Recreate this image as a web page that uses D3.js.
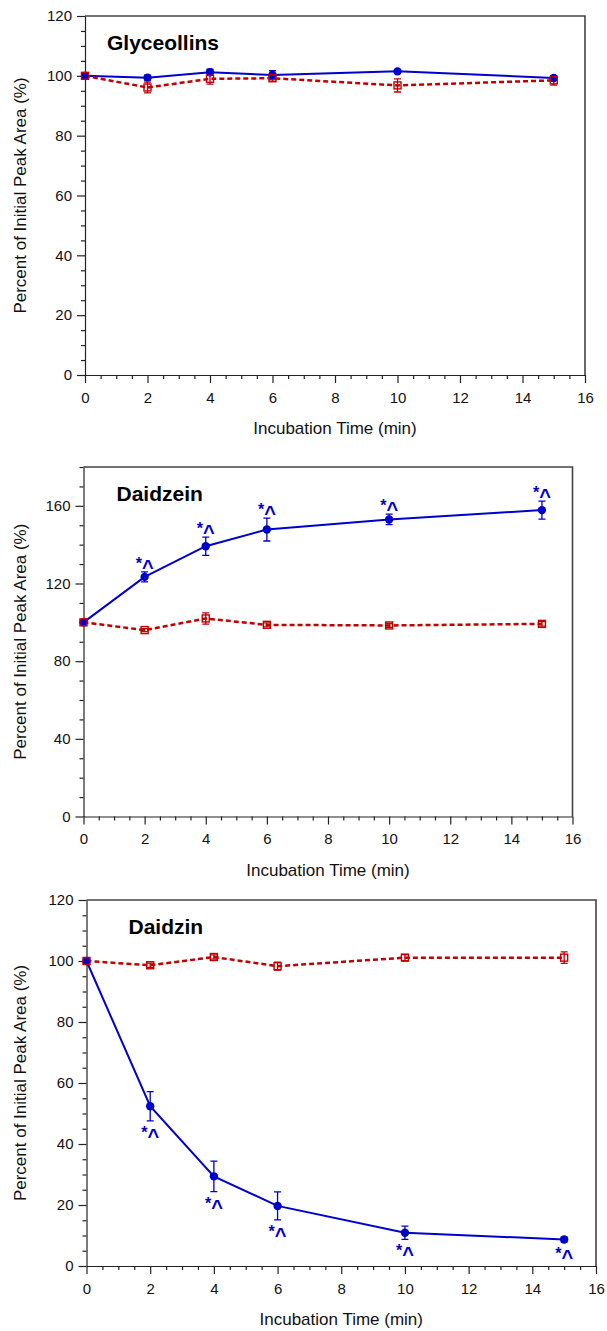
<!DOCTYPE html>
<html>
<head>
<meta charset="utf-8">
<script src="https://cdn.jsdelivr.net/npm/d3@7"></script>
<style>
body { margin: 0; background: #fff; }
svg { display: block; font-family: "Liberation Sans", Arial, sans-serif; }
</style>
</head>
<body>
<svg id="chart" width="607" height="1331"></svg>
<script>
// data
const times = [0, 2, 4, 6, 10, 15];
const xTicks = [0, 2, 4, 6, 8, 10, 12, 14, 16];

// Glyceollins
const glyBlue = [100, 99.4, 101.2, 100.3, 101.5, 99.3];
const glyBlueErr = [0.3, 0.8, 1.0, 1.4, 0.6, 0.8];
const glyRed = [100, 96.1, 99.0, 99.2, 96.8, 98.5];
const glyRedErr = [0.3, 1.8, 1.8, 1.0, 2.2, 1.6];

// Daidzein
const daiBlue = [100, 123.4, 139.2, 147.8, 153.0, 157.8];
const daiBlueErr = [0.5, 2.6, 4.7, 5.9, 2.7, 4.6];
const daiRed = [100, 96.0, 102.0, 98.7, 98.4, 99.2];
const daiRedErr = [0.5, 0.8, 2.9, 1.0, 1.0, 1.2];

// Daidzin
const dznBlue = [100, 52.4, 29.4, 19.7, 10.9, 8.7];
const dznBlueErr = [0.4, 4.8, 5.0, 4.6, 2.2, 0.8];
const dznRed = [100, 98.6, 101.3, 98.3, 101.1, 101.1];
const dznRedErr = [0.4, 0.7, 0.7, 1.3, 1.0, 1.9];

const sigMarks = ["", "*^", "*^", "*^", "*^", "*^"];

const blue = "#0000cc";
const red = "#c00000";

let svg = d3.select("#chart");

let panels = [
	{ title: "Glyceollins", blue: glyBlue, blueErr: glyBlueErr, red: glyRed, redErr: glyRedErr,
	  marks: null, yMax: 120, yStep: 20, yMinor: 5,
	  left: 85, right: 585, top: 16, bottom: 375, titleDx: 22 },
	{ title: "Daidzein", blue: daiBlue, blueErr: daiBlueErr, red: daiRed, redErr: daiRedErr,
	  marks: "above", yMax: 180, yStep: 40, yMinor: 10,
	  left: 83.5, right: 572.5, top: 467, bottom: 816.5, titleDx: 33 },
	{ title: "Daidzin", blue: dznBlue, blueErr: dznBlueErr, red: dznRed, redErr: dznRedErr,
	  marks: "below", yMax: 120, yStep: 20, yMinor: 5,
	  left: 86.5, right: 596, top: 900, bottom: 1266, titleDx: 42 }
];

panels.forEach(drawPanel);

function drawPanel(p) {
	let x = d3.scaleLinear().domain([0, 16]).range([p.left, p.right]);
	let y = d3.scaleLinear().domain([0, p.yMax]).range([p.bottom, p.top]);

	let g = svg.append("g");

	// frame (top + right)
	g.append("path")
		.attr("d", `M${p.left},${p.top}H${p.right}V${p.bottom}`)
		.attr("fill", "none")
		.attr("stroke", "#444")
		.attr("stroke-width", 1.6);

	// y axis
	let yMajor = d3.range(0, p.yMax + 0.01, p.yStep);
	g.append("g").attr("transform", `translate(${p.left},0)`)
		.call(d3.axisLeft(y).tickValues(yMajor).tickSize(8).tickPadding(5).tickSizeOuter(0));
	g.append("g").attr("transform", `translate(${p.left},0)`)
		.call(d3.axisLeft(y).tickValues(d3.range(0, p.yMax + 0.01, p.yMinor).filter(v => v % p.yStep !== 0))
			.tickSize(4).tickFormat("").tickSizeOuter(0))
		.select(".domain").remove();

	// x axis
	g.append("g").attr("transform", `translate(0,${p.bottom})`)
		.call(d3.axisBottom(x).tickValues(xTicks).tickSize(8).tickPadding(9).tickSizeOuter(0));
	g.append("g").attr("transform", `translate(0,${p.bottom})`)
		.call(d3.axisBottom(x).tickValues(d3.range(0, 16.01, 0.5).filter(v => v % 2 !== 0))
			.tickSize(4).tickFormat("").tickSizeOuter(0))
		.select(".domain").remove();

	g.selectAll(".tick text").attr("font-size", 15).attr("font-family", "Liberation Sans, Arial, sans-serif").attr("fill", "#111");
	g.selectAll(".domain, .tick line").attr("stroke", "#222").attr("stroke-width", 1.2);

	// axis titles
	g.append("text")
		.attr("x", (p.left + p.right) / 2)
		.attr("y", p.bottom + 59)
		.attr("text-anchor", "middle")
		.attr("font-size", 17)
		.attr("fill", "#111")
		.text("Incubation Time (min)");

	g.append("text")
		.attr("transform", `translate(20,${(p.top + p.bottom) / 2}) rotate(-90)`)
		.attr("text-anchor", "middle")
		.attr("dominant-baseline", "central")
		.attr("font-size", 17)
		.attr("fill", "#111")
		.text("Percent of Initial Peak Area (%)");

	// panel title
	g.append("text")
		.attr("x", p.left + p.titleDx)
		.attr("y", p.top + 34)
		.attr("font-size", 21)
		.attr("font-weight", "bold")
		.attr("fill", "#000")
		.text(p.title);

	let blueData = times.map((t, i) => ({ t: t, v: p.blue[i], e: p.blueErr[i], m: sigMarks[i] }));
	let redData = times.map((t, i) => ({ t: t, v: p.red[i], e: p.redErr[i] }));

	let line = d3.line().x(d => x(d.t)).y(d => y(d.v));

	// lines
	g.append("path").attr("d", line(blueData))
		.attr("fill", "none").attr("stroke", blue).attr("stroke-width", 2);
	g.append("path").attr("d", line(redData))
		.attr("fill", "none").attr("stroke", red).attr("stroke-width", 2.5)
		.attr("stroke-dasharray", "5,3");

	// error bars
	function errBars(data, color) {
		let eb = g.append("g").attr("stroke", color).attr("stroke-width", 1.3).attr("fill", "none");
		eb.selectAll("path").data(data.filter(d => d.t > 0)).join("path")
			.attr("d", d => {
				let cx = x(d.t), y0 = y(d.v - d.e), y1 = y(d.v + d.e);
				return `M${cx},${y0}V${y1}M${cx - 3.5},${y0}H${cx + 3.5}M${cx - 3.5},${y1}H${cx + 3.5}`;
			});
	}
	errBars(blueData, blue);
	errBars(redData, red);

	// markers
	g.selectAll(".bdot").data(blueData).join("circle")
		.attr("cx", d => x(d.t)).attr("cy", d => y(d.v)).attr("r", 4.2)
		.attr("fill", blue);
	g.selectAll(".rsq").data(redData).join("rect")
		.attr("x", d => x(d.t) - 3.5).attr("y", d => y(d.v) - 3.5)
		.attr("width", 7).attr("height", 7)
		.attr("fill", "none").attr("stroke", red).attr("stroke-width", 1.4);

	// significance marks (* and a larger, lowered ^)
	if (p.marks) {
		let sig = g.selectAll(".sig").data(blueData.filter(d => d.m)).join("text")
			.attr("x", d => x(d.t))
			.attr("y", d => p.marks === "above" ? y(d.v + d.e) - 3 : y(d.v - d.e) + 17)
			.attr("text-anchor", "middle")
			.attr("font-size", 16)
			.attr("font-weight", "bold")
			.attr("fill", blue);
		sig.append("tspan").text(d => d.m.charAt(0));
		sig.append("tspan").attr("font-size", 20).attr("dy", 5).text(d => d.m.slice(1));
	}
}
</script>
</body>
</html>
